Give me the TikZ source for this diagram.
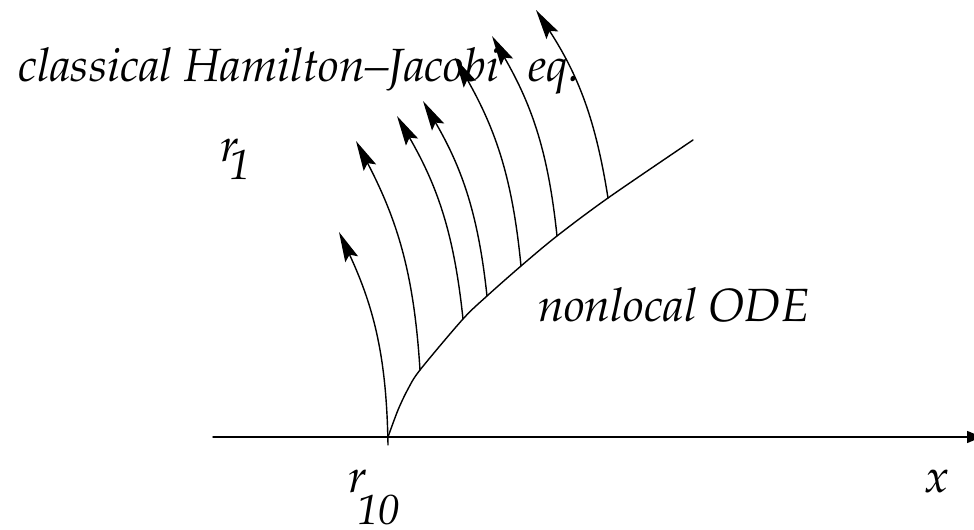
\documentclass[tikz,border=0pt]{standalone}
\usepackage[T1]{fontenc}
\usepackage{mathpazo}
\usetikzlibrary{arrows.meta}
\tikzset{
  lbl/.style={font=\fontsize{26.5}{30}\selectfont\itshape, inner sep=0pt},
  charline/.style={line width=0.8pt, -{Stealth[length=0.6cm,width=0.28cm,inset=0.1cm]}},
  xaxis/.style={line width=0.8pt, -{Triangle[length=0.3cm,width=0.24cm]}},
  every picture/.style={line cap=round, line join=round}
}
\newcommand{\subsz}{\fontsize{24}{26}\selectfont}

\begin{document}
\begin{tikzpicture}
    \clip (0,0) rectangle (19.48,10.6);

    \coordinate (xa) at (4.26,1.86);
    \coordinate (xb) at (19.64,1.86);
    \coordinate (O) at (7.76,1.86);
    \coordinate (Ob) at (7.76,1.70);
    \coordinate (c1) at (7.96,2.40);
    \coordinate (c2) at (8.16,2.82);
    \coordinate (b1) at (8.40,3.20);
    \coordinate (b2) at (9.26,4.22);
    \coordinate (b3) at (9.74,4.68);
    \coordinate (b4) at (10.42,5.28);
    \coordinate (b5) at (11.14,5.88);
    \coordinate (b6) at (12.16,6.64);
    \coordinate (E) at (13.86,7.80);

    \coordinate (t0) at (6.78,5.96);
    \coordinate (t1) at (7.12,7.78);
    \coordinate (t2) at (7.94,8.28);
    \coordinate (t3) at (8.46,8.58);
    \coordinate (t4) at (9.10,9.44);
    \coordinate (t5) at (9.84,9.88);
    \coordinate (t6) at (10.72,10.40);

    \draw[xaxis] (xa) -- (xb);
    \draw[line width=0.8pt] plot[smooth] coordinates {(O) (c1) (c2) (b1) (b2) (b3) (b4) (b5) (b6) (E)};

    \foreach \s/\e in {Ob/t0, b1/t1, b2/t2, b3/t3, b4/t4, b5/t5, b6/t6}
      \draw[charline] (\s) to[bend right=12] (\e);

    \node[lbl, anchor=base west] (hj) at (0.36,8.96) {classical Hamilton--Jacobi\hspace{0.36cm} eq.};
    \node[lbl, anchor=base west] (ode) at (10.76,4.16) {nonlocal ODE};
    \node[lbl, anchor=base] (xlab) at (18.74,0.74) {x};
    \node[lbl, anchor=base west] (rone) at (4.40,7.36) {r\kern-0.18cm\raisebox{-0.36cm}{\subsz 1}};
    \node[lbl, anchor=base west] (rten) at (6.96,0.74) {r\kern-0.18cm\raisebox{-0.64cm}{\subsz 10}};
  \end{tikzpicture}
\end{document}
